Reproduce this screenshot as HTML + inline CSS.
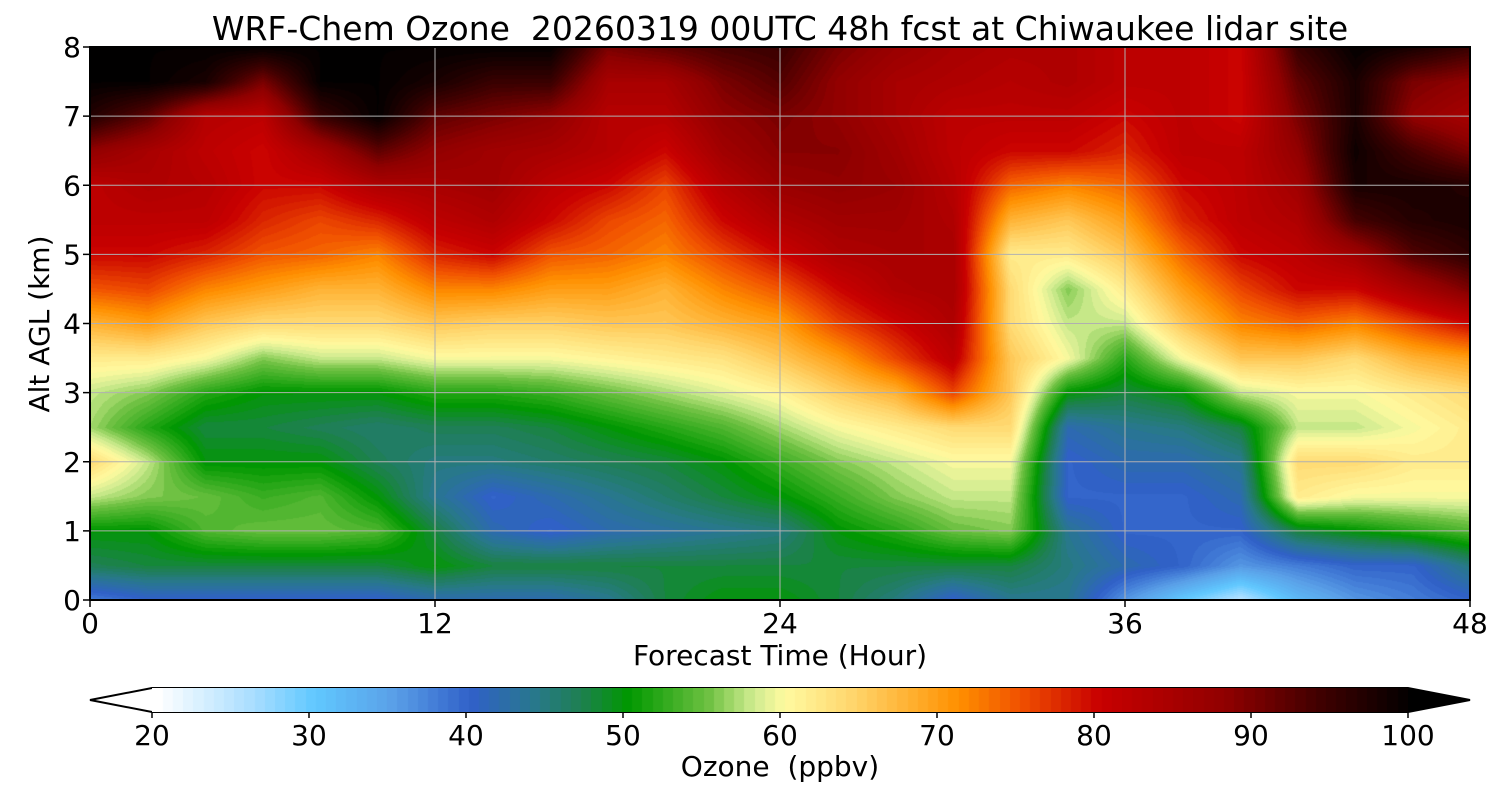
<!DOCTYPE html>
<html><head><meta charset="utf-8">
<style>
body{margin:0;background:#fff;width:1500px;height:800px;overflow:hidden;font-family:"DejaVu Sans","Liberation Sans",sans-serif;}
#wrap{position:relative;width:1500px;height:800px;}
.t{position:absolute;white-space:pre;color:#000;line-height:1;}
</style></head><body>
<div id="wrap">
<div class="t" style="left:0;width:1560px;text-align:center;top:12px;font-size:33px;">WRF-Chem Ozone  20260319 00UTC 48h fcst at Chiwaukee lidar site</div>
<canvas id="hm" width="1380" height="553" style="position:absolute;left:90px;top:47px;"></canvas>
<svg id="ov" width="1500" height="800" style="position:absolute;left:0;top:0;"></svg>
<canvas id="cb" width="1256" height="24" style="position:absolute;left:152px;top:688px;"></canvas>
<div class="t" style="left:0;width:1560px;text-align:center;top:642px;font-size:28px;">Forecast Time (Hour)</div>
<div class="t" style="left:-60px;top:310px;font-size:28px;transform:rotate(-90deg);width:200px;text-align:center;">Alt AGL (km)</div>
<div class="t" style="left:0;width:1560px;text-align:center;top:753px;font-size:28px;">Ozone  (ppbv)</div>
</div>
<script>
const hours=[0,2,4,6,8,10,12,14,16,18,20,22,24,26,28,30,32,34,36,38,40,42,44,46,48];
const alts=[0,0.5,1,1.5,2,2.5,3,3.5,4,4.5,5,5.5,6,6.5,7,7.5,8];
const ozone=[
[38,47,50,58,64,57,58,62,68,75,80,82,82,88,97,100,100],
[40,48,50,56,58,52,56,62,70,76,80,82,84,85,92,100,100],
[40,48,54,55,50,48,52,60,66,72,78,82,83,82,83,98,100],
[40,48,55,53,50,48,50,56,64,70,75,78,80,80,82,90,100],
[40,48,55,54,50,47,50,58,64,68,74,76,80,85,95,100,100],
[40,48,54,50,47,46,50,58,64,68,72,78,84,92,100,100,100],
[42,50,48,44,45,47,52,60,66,72,78,82,85,88,92,98,100],
[42,48,42,40,45,47,52,60,65,72,80,84,86,86,90,95,100],
[42,48,40,42,46,48,53,60,65,70,75,80,82,85,88,95,100],
[44,48,42,44,47,50,55,61,66,70,74,76,80,83,83,85,90],
[48,48,43,46,48,52,57,62,66,68,72,74,76,80,83,85,92],
[50,48,44,48,50,54,59,63,68,72,76,80,83,86,88,90,94],
[50,48,45,50,53,57,61,66,70,75,80,84,87,89,90,93,95],
[48,48,50,53,56,60,65,70,76,80,84,86,88,89,88,88,90],
[45,48,52,56,58,62,68,76,80,84,85,86,87,86,85,85,87],
[40,48,55,58,60,64,76,82,84,85,85,84,83,82,82,84,85],
[44,48,56,58,60,64,66,66,64,64,62,68,74,80,82,83,84],
[44,45,44,40,40,42,50,60,58,56,62,66,72,80,82,84,84],
[36,42,40,40,42,44,48,52,58,62,66,70,74,78,80,82,82],
[30,40,40,40,42,45,50,60,66,70,74,78,80,82,82,82,82],
[25,36,40,42,44,48,58,66,72,76,80,82,82,82,80,80,80],
[32,38,48,62,64,58,60,66,74,80,82,84,86,88,90,92,95],
[36,40,50,60,64,58,60,64,72,80,86,94,98,99,98,98,100],
[38,40,52,60,62,60,62,68,76,85,93,97,98,94,88,90,98],
[40,45,54,60,62,62,64,70,80,90,96,98,97,90,85,88,95]];
const xTicks=[0,12,24,36,48];
const yTicks=[0,1,2,3,4,5,6,7,8];
const cbTicks=[20,30,40,50,60,70,80,90,100];

const stops=[[20,[255,255,255]],[26,[170,222,255]],[30,[96,200,255]],[35,[90,160,232]],[40,[48,96,200]],[44,[40,120,140]],[47,[30,128,80]],[50,[0,152,0]],[55,[108,192,64]],[58,[208,236,144]],[60,[255,250,160]],[64,[255,216,112]],[68,[255,176,48]],[71,[255,144,0]],[75,[240,80,0]],[80,[200,0,0]],[88,[144,0,0]],[94,[64,0,0]],[100,[0,0,0]]];
function cmap(v){v=Math.max(20,Math.min(100,v));v=20+Math.floor((v-20)/0.65)*0.65;
 for(let i=1;i<stops.length;i++){if(v<=stops[i][0]){const a=stops[i-1],b=stops[i],t=(v-a[0])/(b[0]-a[0]);return a[1].map((c,k)=>Math.round(c+(b[1][k]-c)*t));}}return [0,0,0];}
const PW=1380,PH=553;
const xs=h=>h/48*PW, ys=a=>PH-a/8*PH;
const hm=document.getElementById('hm'),ctx=hm.getContext('2d'),img=ctx.createImageData(PW,PH);
for(let py=0;py<PH;py++){const a=(PH-py)/PH*8;let j=Math.min(alts.length-2,Math.floor(a/0.5));const ty=(a-alts[j])/(alts[j+1]-alts[j]);
 for(let px=0;px<PW;px++){const h=px/PW*48;let i=Math.min(hours.length-2,Math.floor(h/2));const tx=(h-hours[i])/(hours[i+1]-hours[i]);
  const v=ozone[i][j]*(1-tx)*(1-ty)+ozone[i+1][j]*tx*(1-ty)+ozone[i][j+1]*(1-tx)*ty+ozone[i+1][j+1]*tx*ty;
  const c=cmap(v),o=(py*PW+px)*4;img.data[o]=c[0];img.data[o+1]=c[1];img.data[o+2]=c[2];img.data[o+3]=255;}}
ctx.putImageData(img,0,0);
const cb=document.getElementById('cb'),cc=cb.getContext('2d');
for(let x=0;x<1256;x++){const c=cmap(20+x/1256*80);cc.fillStyle=`rgb(${c})`;cc.fillRect(x,0,1,24);}
const ov=document.getElementById('ov');const NS='http://www.w3.org/2000/svg';
const FF='DejaVu Sans, Liberation Sans, sans-serif';
function mk(tag,at){const e=document.createElementNS(NS,tag);for(const k in at)e.setAttribute(k,at[k]);ov.appendChild(e);return e;}
xTicks.forEach(h=>{const x=90+xs(h);
 const g=mk('line',{x1:x,x2:x,y1:47,y2:600,stroke:'#b0b0b0','stroke-width':1});
 
 
 mk('line',{x1:x,x2:x,y1:600,y2:607,stroke:'#000','stroke-width':1.5});
 const t=mk('text',{x:x,y:633,'text-anchor':'middle','font-size':28,'font-family':FF});t.textContent=h;
 
 });
yTicks.forEach(a=>{const y=47+ys(a);
 const g=mk('line',{x1:90,x2:1470,y1:y,y2:y,stroke:'#b0b0b0','stroke-width':1});
 
 
 mk('line',{x1:83,x2:90,y1:y,y2:y,stroke:'#000','stroke-width':1.5});
 const t=mk('text',{x:81,y:y+10,'text-anchor':'end','font-size':28,'font-family':FF});t.textContent=a;
 
 });
const fr=mk('rect',{x:90,y:47,width:1380,height:553,fill:'none',stroke:'#000','stroke-width':2});


mk('polygon',{points:'152,688 90,700 152,712',fill:'#fff',stroke:'none'});
mk('polygon',{points:'1408,688 1470,700 1408,712',fill:'#000'});
const cf=mk('path',{d:'M152,688 L1408,688 L1470,700 L1408,712 L152,712 L90,700 Z',fill:'none',stroke:'#000','stroke-width':2});


cbTicks.forEach(v=>{const x=152+(v-20)/80*1256;
 mk('line',{x1:x,x2:x,y1:712,y2:718,stroke:'#000','stroke-width':1.5});
 const t=mk('text',{x:x,y:745,'text-anchor':'middle','font-size':28,'font-family':FF});t.textContent=v;
 
 });
</script>
</body></html>
